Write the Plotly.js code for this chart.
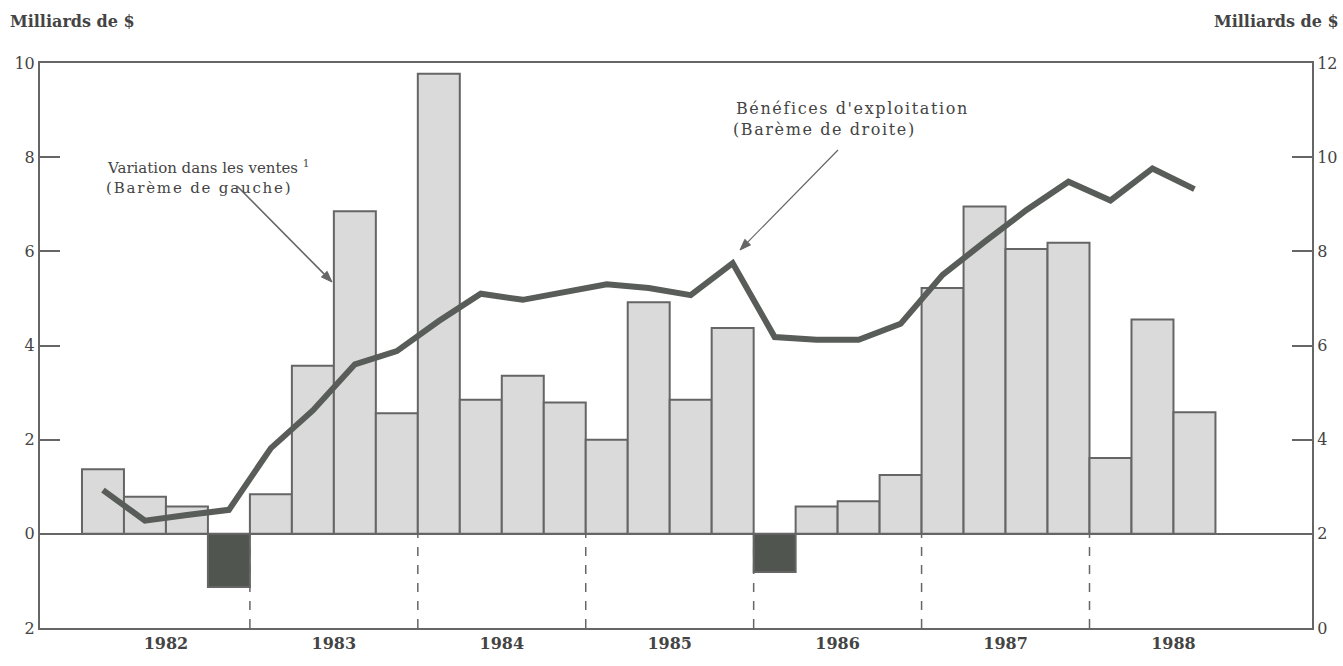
<!DOCTYPE html>
<html>
<head>
<meta charset="utf-8">
<script src="https://cdn.plot.ly/plotly-3.0.1.min.js"></script>
<style>html,body{margin:0;padding:0;background:#fff;}#chart{width:1343px;height:666px;}</style>
</head>
<body>
<div id="chart"></div>
<script>
// Years shown on the x axis (4 quarters each; 1988 has 3 quarters of data)
const years = ["1982","1983","1984","1985","1986","1987","1988"];
// Change in sales, billions $ (left scale), quarterly from 1982 Q1
const salesChange = [1.37, 0.79, 0.58, -1.13,
                     0.84, 3.57, 6.85, 2.56,
                     9.77, 2.85, 3.36, 2.79,
                     2.00, 4.92, 2.85, 4.37,
                     -0.81, 0.58, 0.69, 1.25,
                     5.22, 6.95, 6.05, 6.18,
                     1.61, 4.55, 2.58];
// Operating profits, billions $ (right scale)
const profits = [2.93, 2.28, 2.40, 2.51,
                 3.82, 4.62, 5.60, 5.88,
                 6.52, 7.10, 6.97, 7.12,
                 7.30, 7.22, 7.07, 7.75,
                 6.18, 6.12, 6.12, 6.46,
                 7.50, 8.20, 8.88, 9.48,
                 9.08, 9.76, 9.32];
const leftTickVals = [-2, 0, 2, 4, 6, 8, 10];
const leftTickText = ["2", "0", "2", "4", "6", "8", "10"];
const rightTickVals = [0, 2, 4, 6, 8, 10, 12];

const W = 1343, H = 666, M = {l: 40, r: 31, t: 63, b: 38};
const PW = W - M.l - M.r, PH = H - M.t - M.b;
const px = X => (X - M.l) / PW;
const py = Y => (H - M.b - Y) / PH;

const xq = salesChange.map((v, i) => i);
const barColors = salesChange.map(v => v < 0 ? "#505550" : "#dadada");
const yearCenters = years.map((y, i) => i * 4 + 1.5);

const gray = "#595d59";
const serif = "DejaVu Serif, Liberation Serif, serif";

const traces = [
  {
    type: "bar", x: xq, y: salesChange, width: 1,
    marker: {color: barColors, line: {color: "#656565", width: 2}},
    yaxis: "y", hoverinfo: "skip", showlegend: false
  },
  {
    type: "scatter", mode: "lines", x: xq, y: profits, yaxis: "y2",
    line: {color: gray, width: 6}, hoverinfo: "skip", showlegend: false
  }
];

const shapes = years.slice(1).map((y, i) => ({
  type: "line", xref: "x", yref: "y",
  x0: (i + 1) * 4 - 0.5, x1: (i + 1) * 4 - 0.5, y0: -2, y1: 0,
  line: {color: "#666", width: 1.5, dash: "dash"}
}));

// pointer arrows (pixel geometry -> paper coords)
function arrow(tx, ty, hx, hy, w) {
  const dx = hx - tx, dy = hy - ty, L = Math.hypot(dx, dy);
  const ux = dx / L, uy = dy / L, nx = -uy, ny = ux;
  const bx = hx - 11 * ux, by = hy - 11 * uy;
  shapes.push({type: "line", xref: "paper", yref: "paper",
    x0: px(tx), y0: py(ty), x1: px(bx), y1: py(by), line: {color: "#666", width: w}});
  const p = [[hx, hy], [bx + 4 * nx, by + 4 * ny], [bx - 4 * nx, by - 4 * ny]];
  shapes.push({type: "path", xref: "paper", yref: "paper",
    path: "M" + p.map(q => px(q[0]) + "," + py(q[1])).join(" L") + " Z",
    fillcolor: "#666", line: {color: "#666", width: 1}});
}
arrow(237, 186, 332, 282, 1.6);
arrow(838, 150, 740, 250, 1.2);

const tf = {family: serif, size: 15, color: "#444"};
const annotations = [
  {xref: "paper", yref: "paper", x: px(8), y: py(22), xanchor: "left", yanchor: "middle",
   text: "<b>Milliards de $</b>", showarrow: false, font: {family: serif, size: 16, color: "#444"}},
  {xref: "paper", yref: "paper", x: px(1341), y: py(22), xanchor: "right", yanchor: "middle",
   text: "<b>Milliards de $</b>", showarrow: false, font: {family: serif, size: 16, color: "#444"}},
  {xref: "paper", yref: "paper", x: px(105), y: py(167), xanchor: "left", yanchor: "middle",
   text: "Variation dans les ventes <sup>1</sup>", showarrow: false, font: tf},
  {xref: "paper", yref: "paper", x: px(104), y: py(188), xanchor: "left", yanchor: "middle",
   text: "<span style=\"letter-spacing:1.8px\">(Barème de gauche)</span>", showarrow: false, font: tf},
  {xref: "paper", yref: "paper", x: px(734), y: py(108), xanchor: "left", yanchor: "middle",
   text: "<span style=\"letter-spacing:1.6px\">Bénéfices d'exploitation</span>", showarrow: false,
   font: {family: serif, size: 16, color: "#444"}},
  {xref: "paper", yref: "paper", x: px(731), y: py(129), xanchor: "left", yanchor: "middle",
   text: "<span style=\"letter-spacing:1.6px\">(Barème de droite)</span>", showarrow: false,
   font: {family: serif, size: 16, color: "#444"}}
];

const layout = {
  width: W, height: H,
  margin: M,
  paper_bgcolor: "#fff", plot_bgcolor: "#fff",
  bargap: 0, showlegend: false,
  font: {family: serif, color: "#444"},
  xaxis: {
    range: [-1.5, 28.8], tickvals: yearCenters, ticktext: years,
    ticks: "", showgrid: false, zeroline: false,
    showline: true, mirror: true, linecolor: "#666", linewidth: 2,
    tickfont: {family: serif, size: 16, color: "#444", weight: "bold"}
  },
  yaxis: {
    range: [-2, 10], tickvals: leftTickVals, ticktext: leftTickText,
    ticks: "inside", ticklen: 20, tickwidth: 2, tickcolor: "#666",
    showgrid: false, zeroline: true, zerolinecolor: "#666", zerolinewidth: 2,
    showline: true, linecolor: "#666", linewidth: 2,
    tickfont: {family: serif, size: 16, color: "#444"}
  },
  yaxis2: {
    range: [0, 12], tickvals: rightTickVals, overlaying: "y", side: "right",
    ticks: "inside", ticklen: 20, tickwidth: 2, tickcolor: "#666",
    showgrid: false, zeroline: false,
    showline: true, linecolor: "#666", linewidth: 2,
    tickfont: {family: serif, size: 16, color: "#444"}
  },
  shapes: shapes,
  annotations: annotations
};

Plotly.newPlot("chart", traces, layout, {displayModeBar: false, staticPlot: true});
</script>
</body>
</html>
